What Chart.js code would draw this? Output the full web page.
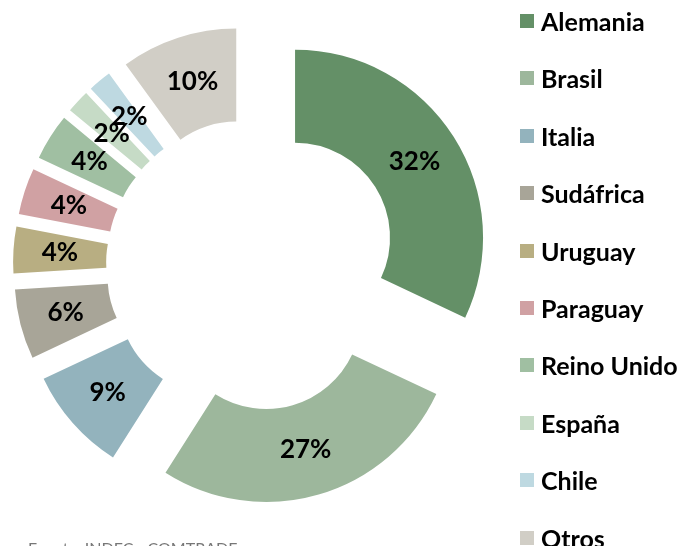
<!DOCTYPE html>
<html>
<head>
<meta charset="utf-8">
<script src="https://cdn.jsdelivr.net/npm/chart.js@4.4.0/dist/chart.umd.min.js"></script>
<style>
  html, body { margin:0; padding:0; background:#fff; }
  body { width:683px; height:546px; overflow:hidden; position:relative; font-family: Lato, "Open Sans", sans-serif; }
  #wrap { position:absolute; left:0; top:0; width:683px; height:546px; }
  #legend { position:absolute; left:0; top:0; width:683px; height:546px; pointer-events:none; }
  .item { position:absolute; left:520px; height:24px; display:flex; align-items:center; }
  .box { width:14px; height:14px; margin-right:7px; }
  .lbl { font: bold 25px Lato, sans-serif; color:#000; white-space:nowrap; }
  #src { position:absolute; left:28px; top:540px; font: 16px/16px Lato, sans-serif; color:#777; white-space:nowrap; }
</style>
</head>
<body>
<div id="wrap"><canvas id="c" width="683" height="546"></canvas></div>
<div id="legend"></div>
<div id="src">Fuente: INDEC - COMTRADE</div>
<script>
const categories = ["Alemania","Brasil","Italia","Sudáfrica","Uruguay","Paraguay","Reino Unido","España","Chile","Otros"];
const shares = [32, 27, 9, 6, 4, 4, 4, 2, 2, 10];
const colors = ["#649067","#9DB79C","#93B3BD","#A8A598","#B8AE82","#D0A1A3","#A0BFA2","#C6DBC6","#BED9E1","#D1CEC6"];

const EXPLODE = 51;

const explodePlugin = {
  id: 'explode',
  beforeDatasetDraw(chart, args) {
    const ctx = chart.ctx;
    args.meta.data.forEach(arc => {
      const half = (arc.startAngle + arc.endAngle) / 2;
      ctx.save();
      ctx.translate(Math.cos(half) * EXPLODE, Math.sin(half) * EXPLODE);
      arc.draw(ctx);
      ctx.restore();
    });
    return false;
  }
};

const labelPlugin = {
  id: 'sliceLabels',
  afterDatasetsDraw(chart) {
    const ctx = chart.ctx;
    const meta = chart.getDatasetMeta(0);
    ctx.save();
    ctx.font = 'bold 26px Lato, sans-serif';
    ctx.fillStyle = '#000';
    ctx.textAlign = 'center';
    ctx.textBaseline = 'middle';
    meta.data.forEach((arc, i) => {
      const half = (arc.startAngle + arc.endAngle) / 2;
      const r = (arc.innerRadius + arc.outerRadius) / 2 + EXPLODE;
      ctx.fillText(shares[i] + '%', arc.x + Math.cos(half) * r, arc.y + Math.sin(half) * r);
    });
    ctx.restore();
  }
};

new Chart(document.getElementById('c'), {
  type: 'doughnut',
  data: {
    labels: categories,
    datasets: [{
      data: shares,
      backgroundColor: colors,
      borderWidth: 0
    }]
  },
  options: {
    responsive: false,
    animation: false,
    radius: 188,
    cutout: '50.5%',
    layout: { padding: { left: 0, right: 179, top: 0, bottom: 16 } },
    plugins: { legend: { display: false }, tooltip: { enabled: false } }
  },
  plugins: [explodePlugin, labelPlugin]
});

const legend = document.getElementById('legend');
categories.forEach((name, i) => {
  const it = document.createElement('div');
  it.className = 'item';
  it.style.top = (21 + i * 57.4 - 12) + 'px';
  const b = document.createElement('div');
  b.className = 'box';
  b.style.background = colors[i];
  const t = document.createElement('span');
  t.className = 'lbl';
  t.textContent = name;
  it.appendChild(b); it.appendChild(t);
  legend.appendChild(it);
});
</script>
</body>
</html>
